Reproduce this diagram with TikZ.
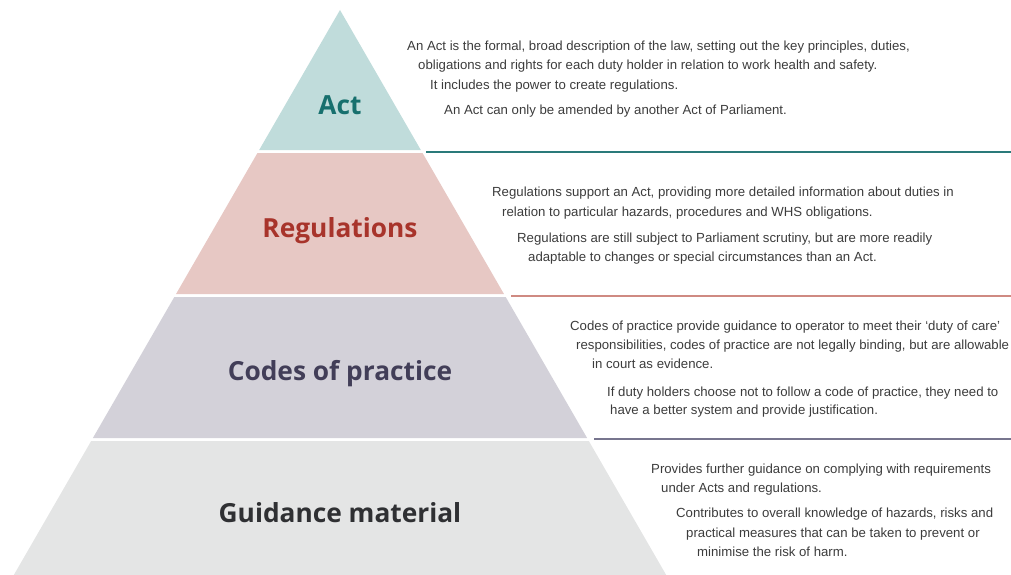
\documentclass[tikz,border=0pt]{standalone}
\usepackage{fontspec}
\setmainfont{Liberation Sans}
\newfontfamily\headfont{Open Sans}
\usetikzlibrary{positioning}
\definecolor{actfill}{HTML}{C0DCDB}
\definecolor{acttext}{HTML}{17706E}
\definecolor{actline}{HTML}{2A7A7A}
\definecolor{regfill}{HTML}{E7C8C4}
\definecolor{regtext}{HTML}{A8342B}
\definecolor{regline}{HTML}{CF8A82}
\definecolor{codefill}{HTML}{D3D1D9}
\definecolor{codetext}{HTML}{423E58}
\definecolor{codeline}{HTML}{77758E}
\definecolor{guidefill}{HTML}{E4E5E5}
\definecolor{guidetext}{HTML}{2F3033}
\definecolor{bodytext}{HTML}{3C3C3C}
\tikzset{
  title/.style={anchor=base, inner sep=0pt, font=\headfont\bfseries\fontsize{26.3}{30}\selectfont},
  info/.style={anchor=base west, inner sep=0pt, text=bodytext, font=\fontsize{13.2}{15}\selectfont},
  rule/.style={line width=1.6pt},
}
\newcommand{\band}[3]{%
  \fill[#1] ({340-(#2-10)*0.57735},#2) -- ({340+(#2-10)*0.57735},#2)
    -- ({340+(#3-10)*0.57735},#3) -- ({340-(#3-10)*0.57735},#3) -- cycle;}

\begin{document}
\begin{tikzpicture}[x=1pt, y=-1pt]
            \useasboundingbox (0,0) rectangle (1011,575);

            \band{actfill}{10}{150}
            \band{regfill}{153}{294}
            \band{codefill}{297}{438}
            \band{guidefill}{441}{575}

            \node[title, text=acttext] (act) at (340,115) {Act};
            \node[title, text=regtext] (regs) at (340,237) {Regulations};
            \node[title, text=codetext] (codes) at (340,380) {Codes of practice};
            \node[title, text=guidetext] (guide) at (340,522) {Guidance material};

            \node[info] (act1) at (407,51) {An Act is the formal, broad description of the law, setting out the key principles, duties,};
            \node[info] (act2) at (418,70) {obligations and rights for each duty holder in relation to work health and safety.};
            \node[info] (act3) at (430,90) {It includes the power to create regulations.};
            \node[info] (act4) at (444,115) {An Act can only be amended by another Act of Parliament.};

            \node[info] (reg1) at (492,196) {Regulations support an Act, providing more detailed information about duties in};
            \node[info] (reg2) at (502,216) {relation to particular hazards, procedures and WHS obligations.};
            \node[info] (reg3) at (517,242) {Regulations are still subject to Parliament scrutiny, but are more readily};
            \node[info] (reg4) at (528,261) {adaptable to changes or special circumstances than an Act.};

            \node[info] (code1) at (570,330) {Codes of practice provide guidance to operator to meet their ‘duty of care’};
            \node[info] (code2) at (576,349) {responsibilities, codes of practice are not legally binding, but are allowable};
            \node[info] (code3) at (592,368) {in court as evidence.};
            \node[info] (code4) at (607,396) {If duty holders choose not to follow a code of practice, they need to};
            \node[info] (code5) at (610,414) {have a better system and provide justification.};

            \node[info] (guide1) at (651,473) {Provides further guidance on complying with requirements};
            \node[info] (guide2) at (661,492) {under Acts and regulations.};
            \node[info] (guide3) at (676,517) {Contributes to overall knowledge of hazards, risks and};
            \node[info] (guide4) at (686,537) {practical measures that can be taken to prevent or};
            \node[info] (guide5) at (697,556) {minimise the risk of harm.};

            \coordinate (actA) at (426,151.7);
            \coordinate (actB) at (1011,151.7);
            \coordinate (regA) at (511,295.7);
            \coordinate (regB) at (1011,295.7);
            \coordinate (codeA) at (594,439);
            \coordinate (codeB) at (1011,439);

            \draw [rule, actline] (actA) -- (actB);
            \draw [rule, regline] (regA) -- (regB);
            \draw [rule, codeline] (codeA) -- (codeB);
        \end{tikzpicture}
\end{document}
